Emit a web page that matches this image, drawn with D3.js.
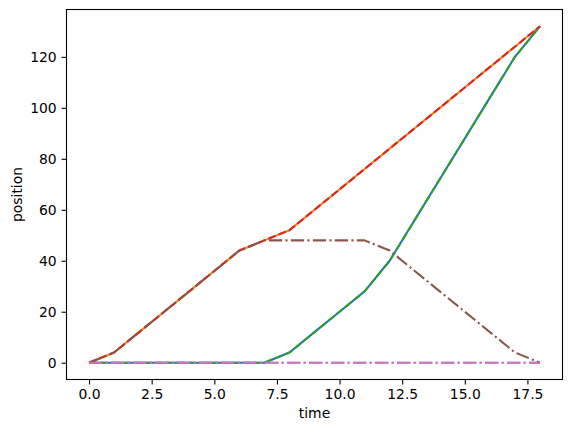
<!DOCTYPE html>
<html>
<head>
<meta charset="utf-8">
<script src="https://cdn.jsdelivr.net/npm/d3@7"></script>
<style>
  body { margin: 0; background: #fff; }
  text { font-family: "DejaVu Sans", sans-serif; }
</style>
</head>
<body>
<div id="chart"></div>
<script>
// time steps and the positions of each car
var times = [0, 1, 2, 3, 4, 5, 6, 7, 8, 9, 10, 11, 12, 13, 14, 15, 16, 17, 18];
var lateStart = [0, 0, 0, 0, 0, 0, 0, 0, 4, 12, 20, 28, 40, 56, 72, 88, 104, 120, 132];
var leader = [0, 4, 12, 20, 28, 36, 44, 48, 52, 60, 68, 76, 84, 92, 100, 108, 116, 124, 132];
var turnBack = [0, 4, 12, 20, 28, 36, 44, 48, 48, 48, 48, 48, 44, 36, 28, 20, 12, 4, 0];
var parked = [0, 0, 0, 0, 0, 0, 0, 0, 0, 0, 0, 0, 0, 0, 0, 0, 0, 0, 0];
var xTicks = [0, 2.5, 5, 7.5, 10, 12.5, 15, 17.5];
var yTicks = [0, 20, 40, 60, 80, 100, 120];

// matplotlib draw order, default colour cycle
var series = [
  { values: lateStart, color: "#1f77b4", dash: null },
  { values: leader, color: "#ff7f0e", dash: null },
  { values: lateStart, color: "#2ca02c", dash: "7.7,3.3" },
  { values: leader, color: "#d62728", dash: "7.7,3.3" },
  { values: parked, color: "#9467bd", dash: "13.3,3.3,2.1,3.3" },
  { values: turnBack, color: "#8c564b", dash: "13.3,3.3,2.1,3.3" },
  { values: parked, color: "#e377c2", dash: "13.3,3.3,2.1,3.3", opacity: 0.75 }
];

var W = 571, H = 432;
// "top" would clash with window.top
var mLeft = 66.5, mRight = 562.5, mTop = 9.5, mBottom = 379.5;

var svg = d3.select("#chart").append("svg")
  .attr("width", W)
  .attr("height", H);

var x = d3.scaleLinear().domain([-0.9, 18.9]).range([mLeft, mRight]);
var y = d3.scaleLinear().domain([-6.6, 138.6]).range([mBottom, mTop]);

var xAxis = d3.axisBottom(x)
  .tickValues(xTicks)
  .tickFormat(d3.format(".1f"))
  .tickSize(4.9)
  .tickPadding(4.9);

var yAxis = d3.axisLeft(y)
  .tickValues(yTicks)
  .tickFormat(d3.format("d"))
  .tickSize(4.9)
  .tickPadding(4.9);

var line = d3.line()
  .x(function (d, i) { return x(times[i]); })
  .y(function (d) { return y(d); });

var plot = svg.append("g");
plot.append("clipPath").attr("id", "clip")
  .append("rect")
  .attr("x", mLeft).attr("y", mTop)
  .attr("width", mRight - mLeft).attr("height", mBottom - mTop);

series.forEach(function (s) {
  plot.append("path")
    .attr("clip-path", "url(#clip)")
    .attr("d", line(s.values))
    .attr("fill", "none")
    .attr("stroke", s.color)
    .attr("stroke-width", 2.08)
    .attr("stroke-dasharray", s.dash)
    .attr("stroke-opacity", s.opacity || 1)
    .attr("stroke-linejoin", "round");
});

var gx = svg.append("g")
  .attr("transform", "translate(0," + mBottom + ")")
  .call(xAxis);
var gy = svg.append("g")
  .attr("transform", "translate(" + mLeft + ",0)")
  .call(yAxis);

[gx, gy].forEach(function (g) {
  g.select(".domain").remove();
  g.selectAll(".tick line").attr("stroke", "#000").attr("stroke-width", 1.1);
  g.selectAll(".tick text")
    .attr("fill", "#000")
    .style("font-size", "13.9px");
});

svg.append("rect")
  .attr("x", mLeft).attr("y", mTop)
  .attr("width", mRight - mLeft).attr("height", mBottom - mTop)
  .attr("fill", "none")
  .attr("stroke", "#000")
  .attr("stroke-width", 1.1);

svg.append("text")
  .attr("x", (mLeft + mRight) / 2)
  .attr("y", 418)
  .attr("text-anchor", "middle")
  .style("font-size", "13.9px")
  .text("time");

svg.append("text")
  .attr("transform", "translate(22," + ((mTop + mBottom) / 2) + ") rotate(-90)")
  .attr("text-anchor", "middle")
  .style("font-size", "13.9px")
  .text("position");
</script>
</body>
</html>
